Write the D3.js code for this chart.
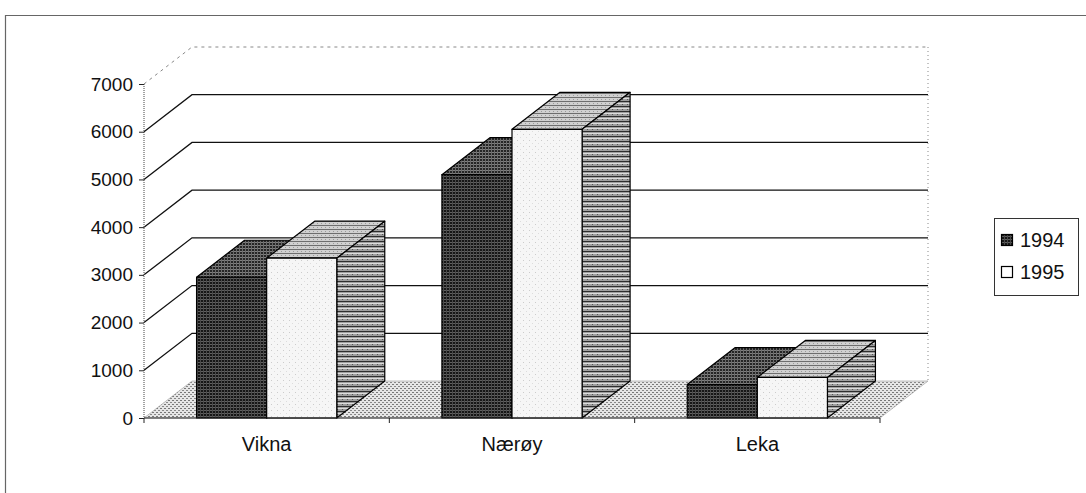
<!DOCTYPE html>
<html><head><meta charset="utf-8">
<script src="https://cdn.jsdelivr.net/npm/d3@7"></script>
<style>body{margin:0;background:#fff}svg{display:block}text{font-family:"Liberation Sans",Arial,sans-serif;fill:#111}</style>
</head><body><svg id="c" width="1086" height="493"></svg>
<script>
const categories = ["Vikna", "Nærøy", "Leka"];
const seriesNames = ["1994", "1995"];
const values1994 = [2950, 5100, 700];
const values1995 = [3350, 6050, 850];
const yTicks = [0, 1000, 2000, 3000, 4000, 5000, 6000, 7000];

const svg = d3.select("#c");
const defs = svg.append("defs");
function pat(id, w, h, base, draw) {
  const p = defs.append("pattern").attr("id", id).attr("patternUnits", "userSpaceOnUse").attr("width", w).attr("height", h);
  p.append("rect").attr("width", w).attr("height", h).attr("fill", base);
  draw(p);
}
pat("p94", 3, 3, "#161616", p => {
  p.append("rect").attr("x", 0).attr("y", 2).attr("width", 3).attr("height", 1).attr("fill", "#606060");
  p.append("rect").attr("x", 2).attr("y", 0).attr("width", 1).attr("height", 3).attr("fill", "#4a4a4a");
});
pat("p94top", 3, 3, "#262626", p => {
  p.append("rect").attr("x", 0).attr("y", 2).attr("width", 3).attr("height", 1).attr("fill", "#808080");
  p.append("rect").attr("x", 2).attr("y", 0).attr("width", 1).attr("height", 3).attr("fill", "#6a6a6a");
});
pat("p95", 6, 6, "#f6f6f6", p => {
  p.append("rect").attr("x", 1).attr("y", 2).attr("width", 1).attr("height", 1).attr("fill", "#ccc");
  p.append("rect").attr("x", 4).attr("y", 5).attr("width", 1).attr("height", 1).attr("fill", "#ddd");
});
pat("p95top", 4, 4, "#d0d0d0", p => {
  p.append("rect").attr("x", 0).attr("y", 1).attr("width", 4).attr("height", 1).attr("fill", "#6e6e6e");
  p.append("rect").attr("x", 1).attr("y", 3).attr("width", 1).attr("height", 1).attr("fill", "#999");
});
pat("p95side", 5, 5, "#9e9e9e", p => {
  p.append("rect").attr("x", 0).attr("y", 1).attr("width", 5).attr("height", 1).attr("fill", "#2e2e2e");
  p.append("rect").attr("x", 0).attr("y", 3).attr("width", 5).attr("height", 1).attr("fill", "#dcdcdc");
  p.append("rect").attr("x", 2).attr("y", 4).attr("width", 1).attr("height", 1).attr("fill", "#555");
});
pat("pfloor", 4, 4, "#e6e6e6", p => {
  p.append("rect").attr("x", 0).attr("y", 0).attr("width", 2).attr("height", 1).attr("fill", "#777");
  p.append("rect").attr("x", 2).attr("y", 2).attr("width", 2).attr("height", 1).attr("fill", "#888");
});

// outer frame
svg.append("path").attr("d", "M5.5,493 L5.5,15.5 L1086,15.5").attr("fill", "none").attr("stroke", "#666").attr("stroke-width", 1.2);

const x0 = 144, x1 = 880;
const DX = 48, DY = -37;
const y = d3.scaleLinear().domain([0, 7000]).range([418, 84]);
const x = d3.scaleBand().domain(categories).range([x0, x1]).paddingInner(0).paddingOuter(0);
const xs = d3.scaleBand().domain(seriesNames).range([0, x.bandwidth()]).paddingInner(0).paddingOuter(0.75);

// gridlines (left wall diagonal + back wall)
const g = svg.append("g");
yTicks.filter(t => t > 0).forEach(t => {
  const top = t === 7000;
  g.append("path")
    .attr("d", `M${x0},${y(t)} L${x0 + DX},${y(t) + DY} L${x1 + DX},${y(t) + DY}`)
    .attr("fill", "none")
    .attr("stroke", top ? "#888" : "#111")
    .attr("stroke-width", top ? 1 : 1.3)
    .attr("stroke-dasharray", top ? "3,4" : null);
});
// right wall edge
g.append("line").attr("x1", x1 + DX).attr("x2", x1 + DX).attr("y1", y(7000) + DY).attr("y2", y(0) + DY)
  .attr("stroke", "#888").attr("stroke-dasharray", "1,3");

// floor
svg.append("path")
  .attr("d", `M${x0},${y(0)} L${x1},${y(0)} L${x1 + DX},${y(0) + DY} L${x0 + DX},${y(0) + DY} Z`)
  .attr("fill", "url(#pfloor)").attr("stroke", "#999").attr("stroke-width", 0.6);

// bars
const data = [];
categories.forEach((c, i) => {
  data.push({ c, s: "1994", v: values1994[i] });
  data.push({ c, s: "1995", v: values1995[i] });
});
const bars = svg.append("g");
data.forEach(d => {
  const bx = x(d.c) + xs(d.s), bw = xs.bandwidth();
  const yt = y(d.v), yb = y(0);
  const dark = d.s === "1994";
  const gb = bars.append("g").attr("stroke", "#000").attr("stroke-width", 1.2).attr("stroke-linejoin", "round");
  gb.append("path").attr("d", `M${bx},${yt} L${bx + DX},${yt + DY} L${bx + bw + DX},${yt + DY} L${bx + bw},${yt} Z`)
    .attr("fill", dark ? "url(#p94top)" : "url(#p95top)");
  gb.append("path").attr("d", `M${bx + bw},${yt} L${bx + bw + DX},${yt + DY} L${bx + bw + DX},${yb + DY} L${bx + bw},${yb} Z`)
    .attr("fill", dark ? "url(#p94)" : "url(#p95side)");
  gb.append("rect").attr("x", bx).attr("y", yt).attr("width", bw).attr("height", yb - yt)
    .attr("fill", dark ? "url(#p94)" : "url(#p95)");
});

// y axis
const ya = svg.append("g").attr("transform", `translate(${x0},0)`)
  .call(d3.axisLeft(y).tickValues(yTicks).tickFormat(d3.format("d")).tickSize(5).tickPadding(6));
ya.select(".domain").attr("stroke", "#444").attr("stroke-dasharray", "1,1").attr("d", `M0,${y(7000)}V${y(0)}`);
ya.selectAll(".tick line").attr("stroke", "#222");
ya.selectAll(".tick text").attr("font-size", 19).attr("font-family", "Liberation Sans, Arial, sans-serif").attr("fill", "#111");

// x axis
svg.append("line").attr("x1", x0).attr("x2", x1).attr("y1", y(0)).attr("y2", y(0)).attr("stroke", "#222").attr("stroke-width", 1);
const bounds = categories.map(c => x(c)).concat([x1]);
svg.selectAll(".xt").data(bounds).enter().append("line")
  .attr("x1", d => d).attr("x2", d => d).attr("y1", y(0)).attr("y2", y(0) + 5).attr("stroke", "#222");
svg.selectAll(".xl").data(categories).enter().append("text")
  .attr("x", d => x(d) + x.bandwidth() / 2).attr("y", 451).attr("text-anchor", "middle")
  .attr("font-size", 20).text(d => d);

// legend
const lg = svg.append("g");
lg.append("rect").attr("x", 994.5).attr("y", 218.5).attr("width", 84).attr("height", 77)
  .attr("fill", "#fff").attr("stroke", "#333").attr("stroke-width", 1);
seriesNames.forEach((s, i) => {
  const cy = 240 + i * 32;
  lg.append("rect").attr("x", 1001.5).attr("y", cy - 5.5).attr("width", 11).attr("height", 11)
    .attr("fill", s === "1994" ? "url(#p94)" : "#fff").attr("stroke", "#000").attr("stroke-width", 1.2);
  lg.append("text").attr("x", 1020).attr("y", cy + 7).attr("font-size", 20).text(s);
});
</script></body></html>
